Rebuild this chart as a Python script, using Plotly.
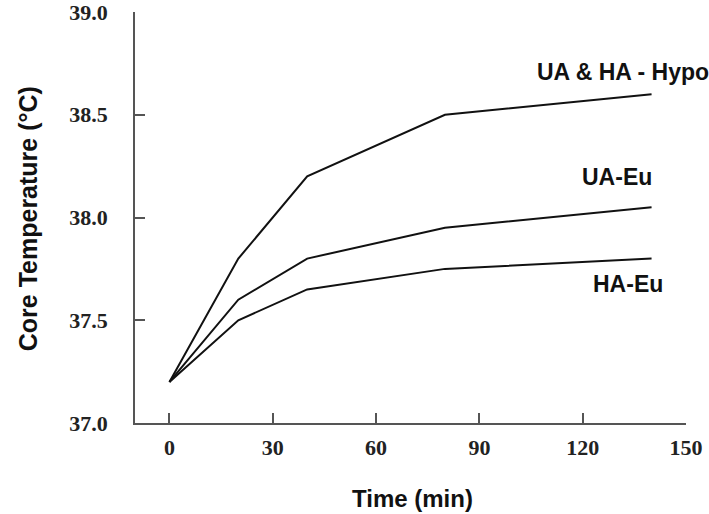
import plotly.graph_objects as go

# Data
time_min = [0, 20, 40, 80, 140]
ua_ha_hypo = [37.2, 37.8, 38.2, 38.5, 38.6]
ua_eu = [37.2, 37.6, 37.8, 37.95, 38.05]
ha_eu = [37.2, 37.5, 37.65, 37.75, 37.8]

series_names = ["UA & HA - Hypo", "UA-Eu", "HA-Eu"]
series_values = [ua_ha_hypo, ua_eu, ha_eu]

# label anchor positions (data coords)
label_x = [131.7, 129.9, 133.2]
label_y = [38.71, 38.197, 37.676]

x_ticks = [0, 30, 60, 90, 120, 150]
y_ticks = [37.0, 37.5, 38.0, 38.5, 39.0]

fig = go.Figure()
for name, vals in zip(series_names, series_values):
    fig.add_trace(go.Scatter(x=time_min, y=vals, mode="lines", name=name,
                             line=dict(color="#111111", width=2), showlegend=False))

sans_bold = dict(family="Liberation Sans, Arial, sans-serif", size=23, color="#111111", weight="bold")

for name, lx, ly in zip(series_names, label_x, label_y):
    fig.add_annotation(x=lx, y=ly, xref="x", yref="y", text=name, showarrow=False,
                       font=sans_bold, xanchor="center", yanchor="middle")

fig.add_annotation(x=0.5045, y=-0.1835, xref="paper", yref="paper", text="Time (min)",
                   showarrow=False, font=dict(sans_bold, size=24), xanchor="center", yanchor="middle")
fig.add_annotation(x=-0.194, y=0.496, xref="paper", yref="paper", text="Core Temperature (°C)",
                   textangle=-90, showarrow=False, font=dict(sans_bold, size=25),
                   xanchor="center", yanchor="middle")

tickfont = dict(family="Liberation Serif, Times New Roman, serif", size=22, color="#222222", weight="bold")
axis_common = dict(showgrid=False, zeroline=False, showline=True, linecolor="#555555", linewidth=1.5,
                   ticks="inside", ticklen=10, tickwidth=1.5, tickcolor="#555555", tickfont=tickfont,
                   ticklabeloverflow="allow", automargin=False)

fig.update_xaxes(range=[-10, 150], tickvals=x_ticks, ticktext=[str(v) for v in x_ticks],
                 ticklabelstandoff=4, **axis_common)
fig.update_yaxes(range=[37, 39], tickvals=y_ticks, ticktext=[f"{v:.1f}" for v in y_ticks],
                 ticklabelstandoff=21, **axis_common)

fig.update_layout(width=709, height=514, margin=dict(l=135, r=23, t=12, b=91),
                  plot_bgcolor="white", paper_bgcolor="white")

fig.write_html("out.html")
